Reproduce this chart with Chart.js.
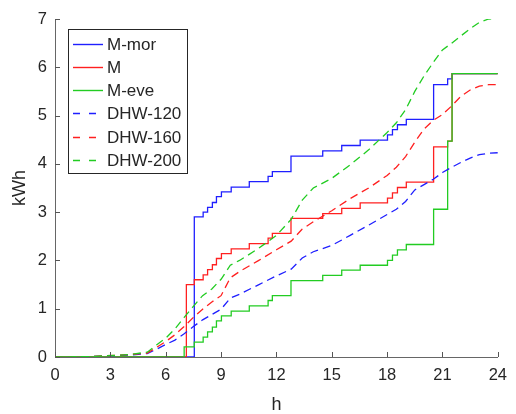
<!DOCTYPE html>
<html>
<head>
<meta charset="utf-8">
<script src="https://cdn.jsdelivr.net/npm/chart.js@4.4.1/dist/chart.umd.min.js"></script>
<style>
  body { margin: 0; background: #fff; }
  canvas { display: block; }
</style>
</head>
<body>
<canvas id="chart" width="516" height="414"></canvas>
<script>
// step times (h) shared by the three M profiles
const mHours = [0, 7.0, 7.12, 7.55, 8.03, 8.27, 8.53, 8.75, 9.02, 9.55, 10.53, 11.55, 11.78, 12.79,
  14.51, 15.54, 16.54, 18.02, 18.29, 18.56, 19.04, 20.52, 21.28, 21.52, 24];
const mMor = [0, 0, 0, 2.90, 3.00, 3.10, 3.20, 3.32, 3.42, 3.52, 3.63, 3.74, 3.84, 4.16,
  4.27, 4.38, 4.49, 4.60, 4.71, 4.81, 4.92, 5.64, 5.76, 5.87, 5.87];
const mMid = [0, 0, 1.50, 1.60, 1.70, 1.81, 1.91, 2.04, 2.14, 2.24, 2.35, 2.46, 2.56, 2.87,
  2.97, 3.08, 3.19, 3.29, 3.40, 3.51, 3.62, 4.35, 4.47, 5.87, 5.87];
const mEve = [0, 0.21, 0.21, 0.31, 0.41, 0.52, 0.62, 0.75, 0.85, 0.95, 1.06, 1.17, 1.27, 1.58,
  1.69, 1.80, 1.90, 2.00, 2.11, 2.22, 2.33, 3.06, 4.47, 5.87, 5.87];

// DHW curves
const dhwHours = [0, 2, 4, 5, 5.5, 6, 6.5, 7, 7.5, 8, 8.5, 9, 9.5, 10, 11, 12, 12.8, 13.4, 14, 15,
  16, 17, 18, 18.5, 19, 19.5, 20, 20.5, 21, 21.5, 22, 22.5, 23, 23.5, 24];
const dhw120 = [0, 0.01, 0.04, 0.07, 0.16, 0.26, 0.35, 0.48, 0.63, 0.77, 0.88, 0.99, 1.22, 1.30, 1.49, 1.68,
  1.82, 2.05, 2.18, 2.31, 2.52, 2.73, 2.95, 3.06, 3.22, 3.46, 3.57, 3.68, 3.82, 3.93, 4.03, 4.12, 4.19, 4.22, 4.23];
const dhw160 = [0, 0.01, 0.05, 0.08, 0.20, 0.32, 0.46, 0.63, 0.82, 0.99, 1.14, 1.27, 1.64, 1.77, 1.99, 2.22,
  2.40, 2.65, 2.80, 3.03, 3.28, 3.50, 3.76, 3.93, 4.15, 4.45, 4.72, 4.90, 5.02, 5.20, 5.40, 5.53, 5.61, 5.64, 5.64];
const dhw200 = [0, 0.01, 0.05, 0.10, 0.25, 0.39, 0.58, 0.82, 1.05, 1.27, 1.41, 1.61, 1.90, 2.00, 2.24, 2.52,
  2.85, 3.25, 3.50, 3.70, 3.98, 4.29, 4.65, 4.85, 5.12, 5.50, 5.82, 6.10, 6.36, 6.50, 6.65, 6.80, 6.93, 7.00, 7.02];

const seriesNames = ["M-mor", "M", "M-eve", "DHW-120", "DHW-160", "DHW-200"];
const xTicks = [0, 3, 6, 9, 12, 15, 18, 21, 24];
const yTicks = [0, 1, 2, 3, 4, 5, 6, 7];

const BLUE = "#1f1fff";
const RED = "#ff2020";
const GREEN = "#22cc22";
const TEXT = "#262626";
const FONT = "'Liberation Sans', Arial, sans-serif";
const DASH = [8, 5];

const pts = (xs, ys) => xs.map((x, i) => ({ x: x, y: ys[i] }));

function line(i, xs, ys, color, dashed) {
  return {
    label: seriesNames[i],
    data: pts(xs, ys),
    borderColor: color,
    backgroundColor: color,
    borderWidth: 1.3,
    borderDash: dashed ? DASH : [],
    stepped: dashed ? false : "before",
    pointRadius: 0,
    fill: false,
    order: 5 - i, // later series on top, like the original
  };
}

// inward tick marks
const tickMarks = {
  id: "tickMarks",
  afterDraw(chart) {
    const ctx = chart.ctx;
    const { x, y } = chart.scales;
    const a = chart.chartArea;
    ctx.save();
    ctx.strokeStyle = "#555";
    ctx.lineWidth = 1;
    ctx.beginPath();
    xTicks.forEach((t) => {
      const px = Math.round(x.getPixelForValue(t)) + 0.5;
      ctx.moveTo(px, a.bottom);
      ctx.lineTo(px, a.bottom - 5);
    });
    yTicks.forEach((t) => {
      const py = Math.round(y.getPixelForValue(t)) + 0.5;
      ctx.moveTo(a.left, py);
      ctx.lineTo(a.left + 5, py);
    });
    ctx.stroke();
    ctx.restore();
  },
};

// boxed legend inside the plot (top-left)
const boxLegend = {
  id: "boxLegend",
  afterDatasetsDraw(chart) {
    const ctx = chart.ctx;
    const bx = 68.5, by = 29.5, bw = 119, bh = 144;
    ctx.save();
    ctx.fillStyle = "#fff";
    ctx.fillRect(bx, by, bw, bh);
    ctx.strokeStyle = TEXT;
    ctx.lineWidth = 1;
    ctx.strokeRect(bx, by, bw, bh);
    ctx.font = "17px " + FONT;
    ctx.textBaseline = "middle";
    ctx.textAlign = "left";
    chart.data.datasets.forEach((ds, i) => {
      const cy = Math.round(43.5 + i * 23.3) + 0.5;
      const dashed = i >= 3;
      ctx.strokeStyle = ds.borderColor;
      ctx.lineWidth = 1.4;
      ctx.beginPath();
      if (dashed) {
        ctx.moveTo(73, cy); ctx.lineTo(80, cy);
        ctx.moveTo(89, cy); ctx.lineTo(96, cy);
      } else {
        ctx.moveTo(73, cy); ctx.lineTo(103, cy);
      }
      ctx.stroke();
      ctx.fillStyle = TEXT;
      ctx.fillText(ds.label, 107, cy + 0.5);
    });
    ctx.restore();
  },
};

new Chart(document.getElementById("chart"), {
  type: "line",
  data: {
    datasets: [
      line(0, mHours, mMor, BLUE, false),
      line(1, mHours, mMid, RED, false),
      line(2, mHours, mEve, GREEN, false),
      line(3, dhwHours, dhw120, BLUE, true),
      line(4, dhwHours, dhw160, RED, true),
      line(5, dhwHours, dhw200, GREEN, true),
    ],
  },
  options: {
    responsive: false,
    animation: false,
    layout: { padding: { top: 19, right: 13, left: 0, bottom: 0 } },
    plugins: {
      legend: { display: false },
      tooltip: { enabled: false },
    },
    scales: {
      x: {
        type: "linear",
        min: 0,
        max: 24,
        afterFit: (s) => { s.height = 57; },
        afterBuildTicks: (s) => { s.ticks = xTicks.map((v) => ({ value: v })); },
        grid: { display: false, drawTicks: false },
        border: { display: true, color: "#666", width: 1 },
        ticks: {
          padding: 9,
          color: TEXT,
          font: { family: FONT, size: 16.5 },
          maxRotation: 0,
        },
        title: {
          display: true,
          text: "h",
          color: TEXT,
          padding: { top: 0, bottom: 0 },
          font: { family: FONT, size: 18, lineHeight: 1 },
        },
      },
      y: {
        min: 0,
        max: 7,
        afterFit: (s) => { s.width = 55; },
        afterBuildTicks: (s) => { s.ticks = yTicks.map((v) => ({ value: v })); },
        grid: { display: false, drawTicks: false },
        border: { display: true, color: "#666", width: 1 },
        ticks: {
          padding: 8,
          color: TEXT,
          font: { family: FONT, size: 16.5 },
        },
        title: {
          display: true,
          text: "kWh",
          color: TEXT,
          padding: { top: 11, bottom: 0 },
          font: { family: FONT, size: 18, lineHeight: 1 },
        },
      },
    },
  },
  plugins: [tickMarks, boxLegend],
});
</script>
</body>
</html>
